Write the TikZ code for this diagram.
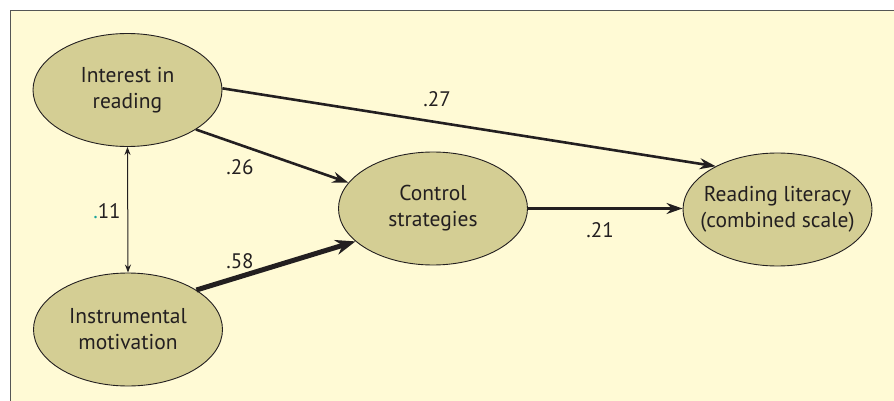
\documentclass[tikz,border=0pt]{standalone}
\usepackage{fontspec}
\setmainfont{PT Sans}
\usetikzlibrary{shapes.geometric,arrows.meta}
\definecolor{bgyellow}{HTML}{FFFAD5}
\definecolor{ellfill}{HTML}{D4CE94}
\definecolor{txt}{HTML}{231F20}
\definecolor{framegray}{HTML}{555555}
\definecolor{teal}{HTML}{1AA39A}
\begin{document}
\begin{tikzpicture}[x=1pt,y=-1pt,
  var/.style={ellipse,draw=txt,line width=0.9pt,fill=ellfill,minimum width=189pt,minimum height=113pt,inner xsep=-30pt,inner ysep=0pt,align=center,text=txt,font=\fontsize{21.5}{26}\selectfont},
  coef/.style={text=txt,font=\fontsize{21}{25}\selectfont,inner sep=0pt},
  path/.style={draw=txt,line width=2.6pt,-{Stealth[length=16pt,width=11pt]}},
  thickpath/.style={draw=txt,line width=5pt,-{Stealth[length=20pt,width=15pt]}},
  corr/.style={draw=txt,line width=1pt,{Stealth[length=8pt,width=6pt]}-{Stealth[length=8pt,width=6pt]}}]
\useasboundingbox (0,0) rectangle (894,401);
\fill[white] (0,0) rectangle (894,401);
\fill[bgyellow] (10.5,10.5) rectangle (894,401);
\draw[framegray,line width=1.5pt] (10.5,401) -- (10.5,10.5) -- (894,10.5);
\node[var] (int) at (127.5,90) {Interest in\\reading};
\node[var] (inst) at (128,329.5) {Instrumental\\motivation};
\node[var] (ctrl) at (433,208.5) {Control\\strategies};
\node[var] (rd) at (777.5,209.5) {Reading literacy\\(combined scale)};
\draw[path] (int.1) -- (rd.145);
\draw[path] (int.-30) -- (ctrl.163);
\draw[thickpath] (inst.30) -- (ctrl.203);
\draw[path] (ctrl.east) -- (ctrl.east -| rd.west);
\draw[corr] (int.south) -- (inst.north);
\node[coef] (l27) at (437,99) {.27};
\node[coef] (l26) at (240,167) {.26};
\node[coef] (l11) at (107,211) {\textcolor{teal}{.}11};
\node[coef] (l58) at (240,261) {.58};
\node[coef] (l21) at (600,230) {.21};
\end{tikzpicture}
\end{document}
